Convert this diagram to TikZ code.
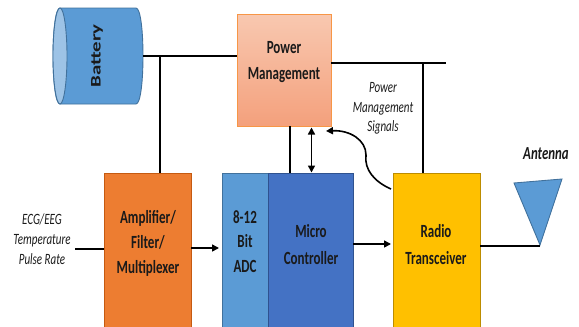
\documentclass[tikz,border=0pt]{standalone}
\usepackage{fontspec}
\setmainfont{Carlito}[FakeStretch=0.7]
\newfontfamily\batfont{Carlito}[FakeStretch=1.43]
\usetikzlibrary{arrows.meta}
\definecolor{pmborder}{HTML}{F79646}
\definecolor{pmtop}{HTML}{F8C8B0}
\definecolor{pmbot}{HTML}{F4A07C}
\definecolor{ampfill}{HTML}{ED7D31}
\definecolor{ampborder}{HTML}{C55A11}
\definecolor{bluefill}{HTML}{5B9BD5}
\definecolor{blueborder}{HTML}{41719C}
\definecolor{lightblue}{HTML}{9DC3E6}
\definecolor{mcfill}{HTML}{4472C4}
\definecolor{mcborder}{HTML}{2F528F}
\definecolor{radfill}{HTML}{FFC000}
\definecolor{radborder}{HTML}{BC8C00}
\definecolor{txt}{HTML}{1A1A1A}
\tikzset{
  blockbox/.style={rectangle, draw, line width=0.9pt, inner sep=0pt, anchor=north west},
  blocktext/.style={align=center, text=txt, font=\bfseries\fontsize{18.6}{25}\selectfont},
  notetext/.style={align=center, text=txt, font=\itshape\fontsize{15.7}{19.6}\selectfont},
  conn/.style={line width=1.6pt, black},
  arr/.style={conn, -{Triangle[length=7pt,width=7pt]}},
}
\begin{document}
\begin{tikzpicture}[x=1pt,y=-1pt]
\useasboundingbox (0,0) rectangle (579,327);
\clip (0,0) rectangle (579,327);

% Battery (cylinder lying on its side)
\path[fill=bluefill, draw=blueborder, line width=0.9pt]
  (60,8) -- (136,8) .. controls (145.33,8) and (145.33,104) .. (136,104)
  -- (60,104) .. controls (50.67,104) and (50.67,8) .. (60,8) -- cycle;
\path[fill=lightblue, draw=blueborder, line width=0.9pt] (60,56) ellipse [x radius=7, y radius=48];
\node[rotate=90, text=txt, font=\batfont\bfseries\fontsize{14.6}{16}\selectfont] (bat) at (97,56) {Battery};
\coordinate (batR) at (143,56);

% Blocks
\node[blockbox, draw=pmborder, top color=pmtop, bottom color=pmbot,
      minimum width=94pt, minimum height=112pt] (pm) at (237,14) {};
\node[blockbox, draw=ampborder, fill=ampfill, minimum width=87pt, minimum height=170pt] (amp) at (104,173) {};
\node[blockbox, draw=blueborder, fill=bluefill, minimum width=46pt, minimum height=170pt] (adc) at (222,173) {};
\node[blockbox, draw=mcborder, fill=mcfill, minimum width=85pt, minimum height=170pt] (mc) at (268,173) {};
\node[blockbox, draw=radborder, fill=radfill, minimum width=87pt, minimum height=170pt] (rad) at (393,173) {};

% Block texts
\node[blocktext, font=\bfseries\fontsize{18.6}{26}\selectfont] (pmT) at (284,62) {Power\\Management};
\node[blocktext] (ampT) at (148,243) {Amplifier/\\Filter/\\Multiplexer};
\node[blocktext, font=\bfseries\fontsize{18.6}{24.5}\selectfont] (adcT) at (245,241.5) {8-12\\Bit\\ADC};
\node[blocktext, font=\bfseries\fontsize{18.6}{27}\selectfont] (mcT) at (311,244.5) {Micro\\Controller};
\node[blocktext, font=\bfseries\fontsize{18.6}{27}\selectfont] (radT) at (436,244.5) {Radio\\Transceiver};

% Notes
\node[notetext, font=\itshape\fontsize{15.7}{20}\selectfont] (ecg) at (42,239) {ECG/EEG\\Temperature\\Pulse Rate};
\node[notetext] (pms) at (383,108.5) {Power\\Management\\Signals};
\node[text=txt, font=\bfseries\itshape\fontsize{18.4}{20}\selectfont] (antT) at (546,154) {Antenna};

% Antenna
\coordinate (ant) at (540,245);
\path[fill=bluefill, draw=blueborder, line width=0.9pt] (514,183) -- (562,179) -- (ant) -- cycle;

% Connectors
\coordinate (jB) at (160,56);
\draw[conn] (batR) -- (batR -| pm.west);
\draw[conn] (jB) -- (jB |- amp.north);

\coordinate (pmE) at (331,63);
\coordinate (tEnd) at (446,63);
\coordinate (jR) at (423,63);
\draw[conn] (pmE) -- (tEnd);
\draw[conn] (jR) -- (jR |- rad.north);

\coordinate (pmS1) at (290,126);
\draw[conn] (pmS1) -- (pmS1 |- mc.north);
\coordinate (pmS2) at (311.5,127.5);
\draw[conn, {Triangle[length=7pt,width=7pt]}-{Triangle[length=7pt,width=7pt]}] (pmS2) -- ([yshift=0.5pt]pmS2 |- mc.north);

\coordinate (inL) at (75,249);
\draw[conn] (inL) -- (inL -| amp.west);

\coordinate (a1) at (191,248);
\draw[arr] (a1) -- ([xshift=-3pt]a1 -| adc.west);

\coordinate (m1) at (353,244);
\draw[arr] (m1) -- ([xshift=-2pt]m1 -| rad.west);

\coordinate (r1) at (480,246);
\draw[conn] (r1) -- (r1 -| ant);

% Power management signals curve
\coordinate (cStart) at (391,189);
\coordinate (cMid) at (366,155);
\coordinate (cEnd) at (326,131);
\draw[arr] (cStart) .. controls (375,182) and (364,170) .. (cMid)
  .. controls (366,140) and (350,130) .. (cEnd);
\end{tikzpicture}
\end{document}
